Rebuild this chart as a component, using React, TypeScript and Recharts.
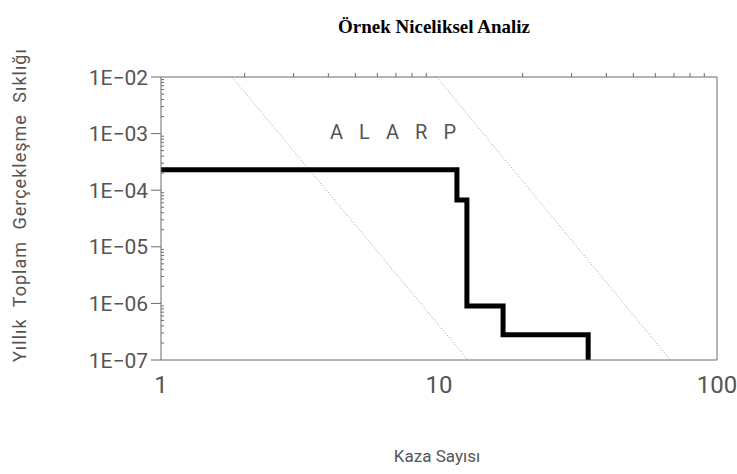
import { LineChart, Line, XAxis, YAxis, Label } from 'recharts';

// step curve (frequency vs number of accidents)
const stepX = [1, 11.6, 12.6, 17, 34.4];
const stepY = [2.3e-4, 6.7e-5, 9e-7, 2.8e-7, 1e-7];

// dotted ALARP boundary lines: [top point, bottom point]
const lowerX = [1.8, 12.7];
const upperX = [9.8, 68];
const boundY = [1e-2, 1e-7];

const xTicks = [1, 10, 100];
const yTicks = [1e-7, 1e-6, 1e-5, 1e-4, 1e-3, 1e-2];
const yTickLabels = ['1E−07', '1E−06', '1E−05', '1E−04', '1E−03', '1E−02'];
const minorSteps = [2, 3, 4, 5, 6, 7, 8, 9];

const xMinor = [1, 10].flatMap((d) => minorSteps.map((m) => m * d));
const yMinor = [1e-7, 1e-6, 1e-5, 1e-4, 1e-3].flatMap((d) => minorSteps.map((m) => m * d));

const stepData = stepX.map((x, i) => ({ x, y: stepY[i] }));
const lowerData = lowerX.map((x, i) => ({ x, y: boundY[i] }));
const upperData = upperX.map((x, i) => ({ x, y: boundY[i] }));

const axisColor = '#6b6b6b';
const textColor = '#555';
const tickFont = 'Roboto, "DejaVu Sans", sans-serif';

const YTick = (props: any) => {
  const { x, y, payload } = props;
  const idx = yTicks.findIndex((t) => Math.abs(t - payload.value) / t < 1e-6);
  if (idx >= 0) {
    return (
      <g>
        <line x1={x - 10} x2={x} y1={y} y2={y} stroke={axisColor} strokeWidth={1} />
        <text x={x - 13} y={y} dy="0.36em" textAnchor="end" fontSize={21} fill={textColor} fontFamily={tickFont}>
          {yTickLabels[idx]}
        </text>
      </g>
    );
  }
  return <line x1={x} x2={x + 3} y1={y} y2={y} stroke={axisColor} strokeWidth={1} />;
};

const TopTick = (props: any) => {
  const { x, y } = props;
  return <line x1={x} x2={x} y1={y} y2={y - 4} stroke={axisColor} strokeWidth={1} />;
};

export default function App() {
  return (
    <div style={{ position: 'absolute', left: 0, top: 0, width: 737, height: 474, background: '#fff' }}>
      <div
        style={{
          position: 'absolute', left: 0, width: 868, top: 16, textAlign: 'center',
          fontFamily: '"Liberation Serif", "Times New Roman", serif', fontWeight: 'bold', fontSize: 19, color: '#000',
        }}
      >
        Örnek Niceliksel Analiz
      </div>
      <div
        style={{
          position: 'absolute', left: 330, top: 120, fontFamily: tickFont, fontSize: 20,
          letterSpacing: 16, color: textColor,
        }}
      >
        ALARP
      </div>
      <LineChart width={737} height={474} margin={{ top: 72, right: 19, left: 0, bottom: 0 }}>
        <XAxis
          xAxisId="bottom" dataKey="x" type="number" scale="log" domain={[1, 100]} allowDataOverflow
          ticks={xTicks} interval={0} tickLine={false} tickSize={0} tickMargin={16} height={114}
          stroke={axisColor} tick={{ fontSize: 24, fill: textColor, fontFamily: tickFont }}
        >
          <Label
            content={() => (
              <text x={437} y={456} dy="0.36em" textAnchor="middle" fontSize={17} fill={textColor} fontFamily={tickFont}>
                Kaza Sayısı
              </text>
            )}
          />
        </XAxis>
        <XAxis
          xAxisId="top" orientation="top" dataKey="x" type="number" scale="log" domain={[1, 100]} allowDataOverflow
          ticks={xMinor} interval={0} tickLine={false} tickSize={0} tickMargin={0} height={5}
          stroke={axisColor} tick={<TopTick />}
        />
        <YAxis
          yAxisId="main" dataKey="y" type="number" scale="log" domain={[1e-7, 1e-2]} allowDataOverflow
          ticks={[...yTicks, ...yMinor]} interval={0} tickLine={false} tickSize={0} tickMargin={0} width={161}
          stroke={axisColor} tick={<YTick />}
        >
          <Label
            content={() => (
              <text
                x={20} y={205} dy="0.36em" textAnchor="middle" fontSize={18} fill={textColor} fontFamily={tickFont}
                letterSpacing={1} wordSpacing={6} transform="rotate(-90 20 205)"
              >
                Yıllık Toplam Gerçekleşme Sıklığı
              </text>
            )}
          />
        </YAxis>
        <YAxis
          yAxisId="right" orientation="right" type="number" scale="log" domain={[1e-7, 1e-2]}
          width={1} tick={false} tickLine={false} stroke={axisColor}
        />
        <Line
          xAxisId="bottom" yAxisId="main" data={lowerData} dataKey="y" stroke="#9a9a9a" strokeWidth={1}
          strokeDasharray="1 2" dot={false} isAnimationActive={false}
        />
        <Line
          xAxisId="bottom" yAxisId="main" data={upperData} dataKey="y" stroke="#9a9a9a" strokeWidth={1}
          strokeDasharray="1 2" dot={false} isAnimationActive={false}
        />
        <Line
          xAxisId="bottom" yAxisId="main" data={stepData} dataKey="y" type="stepAfter" stroke="#000"
          strokeWidth={5} strokeLinecap="butt" strokeLinejoin="miter" dot={false} isAnimationActive={false}
        />
      </LineChart>
    </div>
  );
}
